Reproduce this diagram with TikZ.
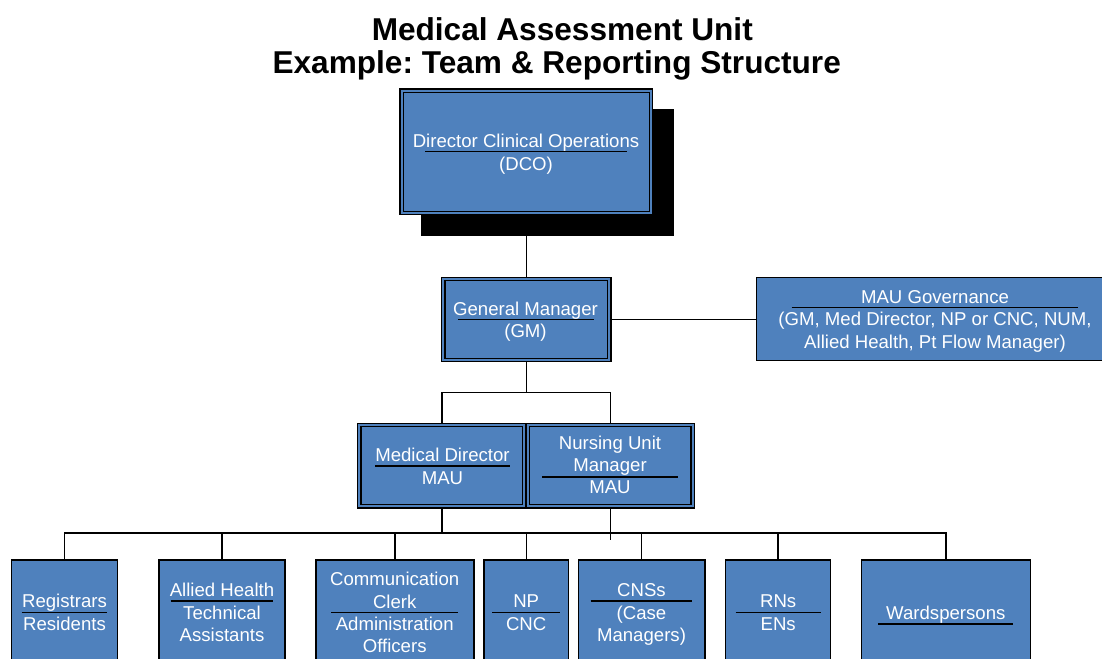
\documentclass[tikz,border=0pt]{standalone}
\usepackage{fontspec}
\setmainfont{Liberation Sans}
\usetikzlibrary{backgrounds}
\definecolor{boxblue}{HTML}{4F81BD}
\newcommand\fl{\rule{0pt}{15pt}}
\frenchspacing
\tikzset{
  box/.style={draw=black, fill=boxblue, line width=1.4pt, inner sep=0pt},
  shadowbox/.style={fill=black, inner sep=0pt},
  innerline/.style={draw=black, line width=1.3pt},
  conn/.style={draw=black, line width=1.3pt},
  rulel/.style={draw=black, line width=1.4pt},
  lbl/.style={text=white, font=\fontsize{18.6}{22.3}\selectfont, align=center, inner sep=0pt, anchor=north},
  titlef/.style={font=\fontsize{31.6}{34}\selectfont\bfseries, inner sep=0pt, anchor=base}
}
\begin{document}
\begin{tikzpicture}[x=1pt,y=-1pt]
\useasboundingbox (0,0) rectangle (1102,658);
\clip (0,0) rectangle (1102,658);

% title
\node[titlef] (title1) at (562.3,40.7) {Medical Assessment Unit};
\node[titlef] (title2) at (556.7,74) {Example: Team \& Reporting Structure};

% DCO with shadow
\node[shadowbox, minimum width=253pt, minimum height=126.7pt] (dcoshadow) at (547.2,172.7) {};
\node[box, minimum width=252.7pt, minimum height=125.7pt] (dco) at (526.3,151.8) {};
\draw[innerline] ([shift={(4,4)}]dco.north west) rectangle ([shift={(-4,-4)}]dco.south east);

% GM
\node[box, minimum width=169.3pt, minimum height=84.4pt] (gm) at (526.3,319.5) {};
\draw[innerline] ([shift={(4,4)}]gm.north west) rectangle ([shift={(-4,-4)}]gm.south east);

% Governance
\node[box, minimum width=349.3pt, minimum height=83.4pt] (gov) at (931.4,319) {};

% Medical Director / NUM
\node[box, minimum width=168.3pt, minimum height=84.7pt] (md) at (441.9,465.7) {};
\draw[innerline] ([shift={(4,4)}]md.north west) rectangle ([shift={(-4,-4)}]md.south east);
\node[box, minimum width=168.3pt, minimum height=84.7pt] (num) at (610.2,465.7) {};
\draw[innerline] ([shift={(4,4)}]num.north west) rectangle ([shift={(-4,-4)}]num.south east);

% bottom row
\node[box, minimum width=105.6pt, minimum height=102pt] (reg) at (64.5,611) {};
\node[box, minimum width=126pt, minimum height=102pt] (allied) at (222,611) {};
\node[box, minimum width=158pt, minimum height=102pt] (comm) at (395,611) {};
\node[box, minimum width=84.7pt, minimum height=102pt] (np) at (526.35,611) {};
\node[box, minimum width=126.7pt, minimum height=102pt] (cns) at (641.65,611) {};
\node[box, minimum width=104.6pt, minimum height=102pt] (rn) at (778,611) {};
\node[box, minimum width=168.6pt, minimum height=102pt] (ward) at (946,611) {};

% connectors
\begin{scope}[on background layer]
\draw[conn] (dco.south) -- (gm.north);
\draw[conn] (gm.east) -- (gm.east -| gov.west);
\coordinate (gmsplit) at (526.3,392.7);
\draw[conn] (gm.south) -- (gmsplit);
\draw[conn] (md.north) |- (gmsplit) -| (num.north);
\coordinate (bus) at (526.3,532.7);
\draw[conn] (md.south) -- (md.south |- bus);
\coordinate (numend) at (610.2,540);
\draw[conn] (num.south) -- (numend);
\draw[conn, line width=1.6pt] (reg.north) |- (bus) -| (ward.north);
\foreach \n in {allied,comm,np,cns,rn} \draw[conn] (\n.north) -- (\n.north |- bus);
\end{scope}

% texts
\node[lbl] (dcot) at (526,132.5) {\fl Director Clinical Operations\\(DCO)};
\draw[rulel] (425,151.7) -- (627,151.7);
\node[lbl] (gmt) at (525.5,299.8) {\fl General Manager\\(GM)};
\draw[rulel] (458,319.3) -- (594,319.3);
\node[lbl] (govt) at (935,288.2) {\fl MAU Governance\\(GM, Med Director, NP or CNC, NUM,\\Allied Health, Pt Flow Manager)};
\draw[rulel] (791.7,307.7) -- (1078,307.7);
\node[lbl] (mdt) at (442.5,446.5) {\fl Medical Director\\MAU};
\draw[rulel] (375,466) -- (510,466);
\node[lbl] (numt) at (610,433.8) {\fl Nursing Unit\\Manager\\MAU};
\draw[rulel] (542.3,477) -- (677.7,477);
\node[lbl] (regt) at (64.5,592.5) {\fl Registrars\\Residents};
\draw[rulel] (21.7,612.3) -- (107.3,612.3);
\node[lbl] (alliedt) at (222,581.5) {\fl Allied Health\\Technical\\Assistants};
\draw[rulel] (170.7,601) -- (273.3,601);
\node[lbl] (commt) at (394.7,570.5) {\fl Communication\\Clerk\\Administration\\Officers};
\draw[rulel] (331,612.3) -- (458.3,612.3);
\node[lbl] (npt) at (526.2,592.5) {\fl NP\\CNC};
\draw[rulel] (492.3,612.3) -- (560,612.3);
\node[lbl] (cnst) at (641.5,581.5) {\fl CNSs\\(Case\\Managers)};
\draw[rulel] (590.7,601) -- (692.3,601);
\node[lbl] (rnt) at (778.2,592.5) {\fl RNs\\ENs};
\draw[rulel] (735.7,612.3) -- (820.7,612.3);
\node[lbl] (wardt) at (945.8,603.8) {\fl Wardspersons};
\draw[rulel] (878.3,624) -- (1013.3,624);
\end{tikzpicture}
\end{document}
